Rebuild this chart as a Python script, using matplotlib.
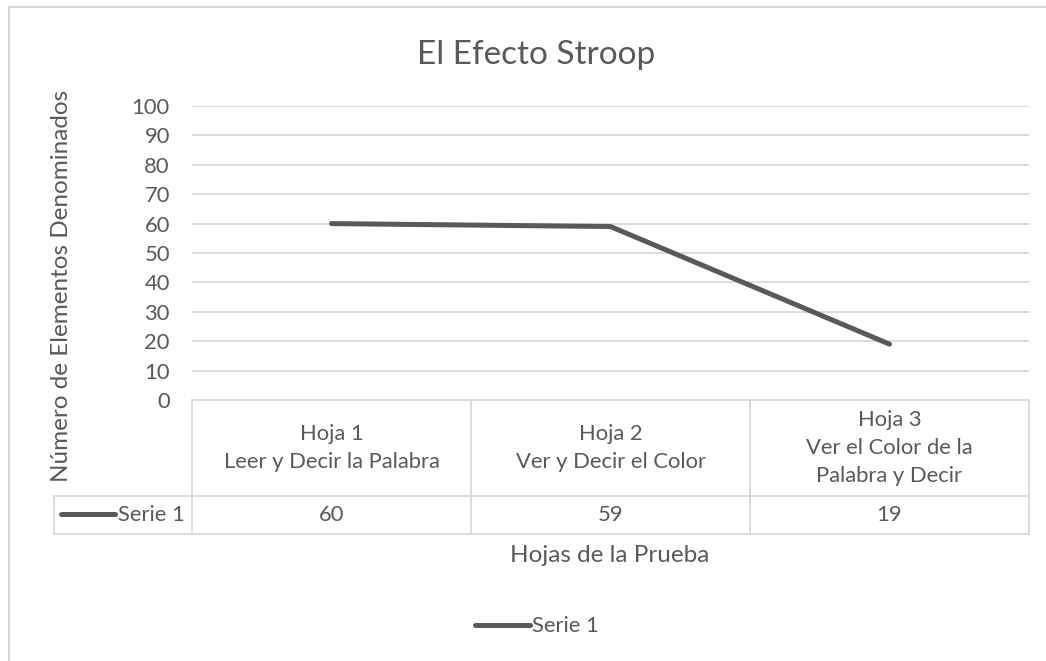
import matplotlib.pyplot as plt
from matplotlib.lines import Line2D
import matplotlib.transforms as mtrans

plt.rcParams['font.family'] = ['Lato', 'DejaVu Sans']

# datos
hojas = ['Hoja 1\nLeer y Decir la Palabra',
         'Hoja 2\nVer y Decir el Color',
         'Hoja 3\nVer el Color de la\nPalabra y Decir']
serie1 = [60, 59, 19]
nombre_serie = 'Serie 1'
yticks = [0, 10, 20, 30, 40, 50, 60, 70, 80, 90, 100]

gris = '#595959'
grid_col = '#d9d9d9'
W, H = 1046, 661
fs = 15.8

fig = plt.figure(figsize=(W / 100, H / 100), dpi=100)

def fx(px):
    return px / W

def fy(py):
    return 1 - py / H

# area del grafico (pixeles)
left, right, top, bottom = 192, 1029, 106, 400
ax = fig.add_axes([fx(left), fy(bottom), fx(right - left), (bottom - top) / H])

x = list(range(len(serie1)))
ax.plot(x, serie1, color=gris, linewidth=3.6, solid_capstyle='round',
        solid_joinstyle='round', zorder=3)
ax.set_xlim(-0.5, len(serie1) - 0.5)
ax.set_ylim(0, 100)
ax.set_yticks(yticks)
ax.set_yticklabels([str(v) for v in yticks], fontsize=fs, color=gris)
ax.tick_params(axis='y', length=0, pad=16)
ax.set_xticks([])
for s in ax.spines.values():
    s.set_visible(False)
for v in yticks[1:]:
    ax.axhline(v, color=grid_col, linewidth=1.3, zorder=1)

# tabla de datos debajo del eje
h_ax = bottom - top
def ay(py):
    return (bottom - py) / h_ax

trans = mtrans.blended_transform_factory(ax.transData, ax.transAxes)
tab_head, tab_row, tab_end = 400, 496, 534
bounds = [i - 0.5 for i in range(len(serie1) + 1)]
lw_t = 1.3
for yy in (tab_head, tab_row, tab_end):
    ax.add_line(Line2D([bounds[0], bounds[-1]], [ay(yy)] * 2, transform=trans,
                       color=grid_col, lw=lw_t, clip_on=False))
for b in bounds:
    ax.add_line(Line2D([b, b], [ay(tab_head), ay(tab_end)], transform=trans,
                       color=grid_col, lw=lw_t, clip_on=False))
# celda de la leyenda en la tabla
fig.add_artist(Line2D([fx(54), fx(left)], [fy(tab_row)] * 2, color=grid_col, lw=lw_t))
fig.add_artist(Line2D([fx(54), fx(left)], [fy(tab_end)] * 2, color=grid_col, lw=lw_t))
fig.add_artist(Line2D([fx(54), fx(54)], [fy(tab_row), fy(tab_end)], color=grid_col, lw=lw_t))
fig.add_artist(Line2D([fx(61), fx(115)], [fy(514)] * 2, color=gris, lw=3.6,
                      solid_capstyle='round'))
fig.text(fx(118), fy(515), nombre_serie, fontsize=fs, color=gris, va='center', ha='left')

for i, (lab, val) in enumerate(zip(hojas, serie1)):
    ax.text(i, ay((tab_head + tab_row) / 2), lab, transform=trans, ha='center',
            va='center', fontsize=fs, color=gris, linespacing=1.5)
    ax.text(i, ay((tab_row + tab_end) / 2), str(val), transform=trans, ha='center',
            va='center', fontsize=fs, color=gris)

# titulos
fig.text(fx(536), fy(55), 'El Efecto Stroop', fontsize=24, color=gris,
         ha='center', va='center')
fig.text(fx(62), fy(286), 'Número de Elementos Denominados', fontsize=17.5, color=gris,
         ha='center', va='center', rotation=90)
fig.text(fx(610), fy(556), 'Hojas de la Prueba', fontsize=17.5, color=gris,
         ha='center', va='center')

# leyenda inferior
fig.add_artist(Line2D([fx(475), fx(530)], [fy(625)] * 2, color=gris, lw=3.6,
                      solid_capstyle='round'))
fig.text(fx(532), fy(626), nombre_serie, fontsize=fs, color=gris, va='center', ha='left')

# borde del grafico
fig.add_artist(Line2D([fx(8.5), 1], [fy(6.5)] * 2, color=grid_col, lw=1.5))
fig.add_artist(Line2D([fx(8.5)] * 2, [fy(6.5), 0], color=grid_col, lw=1.5))

fig.savefig('out.png', dpi=100, facecolor='white')
